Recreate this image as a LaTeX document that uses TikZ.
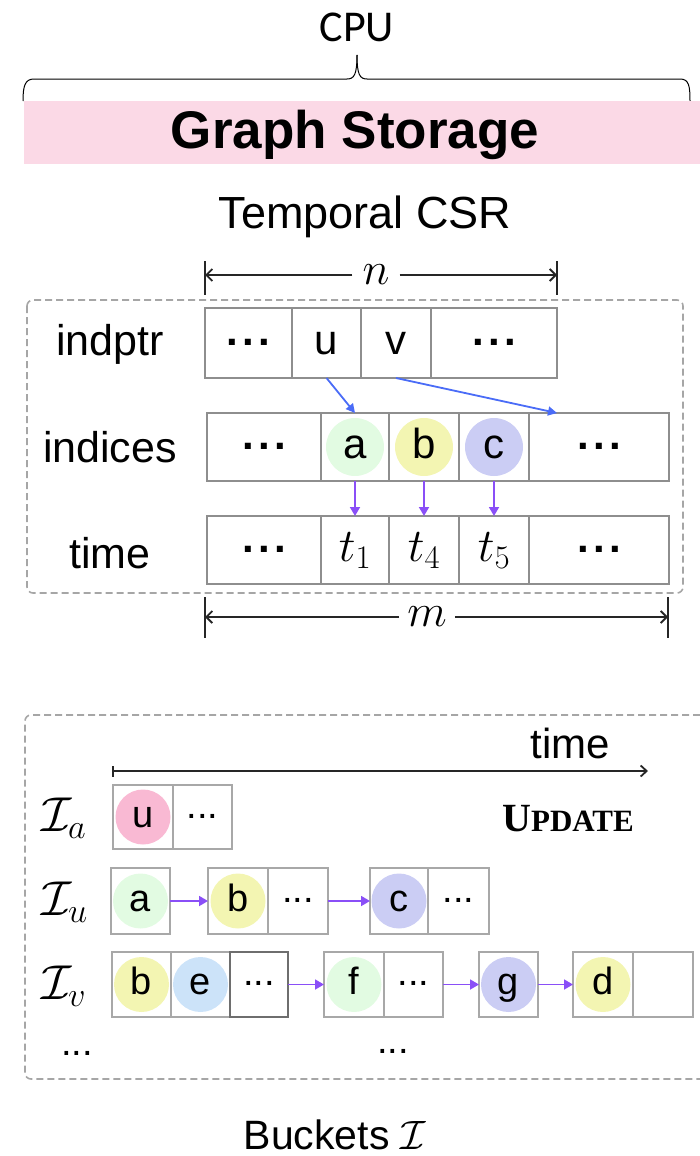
\RequirePackage{fix-cm}
\documentclass[tikz,border=0pt]{standalone}
\usepackage{fontspec}
\setmainfont{Liberation Sans}
\newfontfamily\cpufont{Carlito}
\newfontfamily\tnrfont{Liberation Serif}
\usetikzlibrary{arrows.meta}

\definecolor{bandpink}{HTML}{FBD9E6}
\definecolor{cellgray}{HTML}{8E8E8E}
\definecolor{darkcell}{HTML}{6E6E6E}
\definecolor{bucketgray}{HTML}{A8A8A8}
\definecolor{dashgray}{HTML}{A6A6A6}
\definecolor{ptrblue}{HTML}{4A6CF7}
\definecolor{linkpurple}{HTML}{8A4FF7}
\definecolor{cgreen}{HTML}{E2FBE2}
\definecolor{cyellow}{HTML}{F3F5B2}
\definecolor{clav}{HTML}{CBCDF4}
\definecolor{cpink}{HTML}{F9B9D3}
\definecolor{cblue}{HTML}{CCE3F9}

\newcommand{\fs}[1]{\fontsize{#1}{#1}\selectfont}
\newcommand{\bdots}{\raisebox{9pt}{\textbf{.\kern0.1em.\kern0.1em.}}}
\newcommand{\rdots}{\raisebox{9pt}{...}}
% cell: style, name, x1, x2, y1, y2
\newcommand{\cellbox}[6]{%
  \node[#1, minimum width={(#4-#3)*1pt}, minimum height={(#6-#5)*1pt}]
    (#2) at ({(#3+#4)/2},{(#5+#6)/2}) {};}

\tikzset{
  csrcell/.style={draw=cellgray, line width=1.8pt, inner sep=0pt, outer sep=0pt},
  bktcell/.style={draw=bucketgray, line width=1.8pt, inner sep=0pt, outer sep=0pt},
  bigtext/.style={font=\fs{42}, text height=30pt, text depth=8pt, inner sep=0pt},
  mathtext/.style={font=\fs{47}, text height=30pt, text depth=8pt, inner sep=0pt},
  smalltext/.style={font=\fs{38}, text height=27pt, text depth=7pt, inner sep=0pt},
  ball/.style={circle, fill=#1, minimum size=58pt, bigtext},
  sball/.style={circle, fill=#1, minimum size=55pt, smalltext},
  rowlabel/.style={font=\fs{43}, anchor=base},
  bktlabel/.style={font=\fs{49}, anchor=base west},
  dashbox/.style={draw=dashgray, line width=1.6pt, dash pattern=on 7pt off 4pt, rounded corners=6pt},
  dimline/.style={draw=black!85, line width=1.8pt},
  dimarr/.style={dimline, -{Straight Barb[length=6pt,width=12pt]}},
  ptr/.style={draw=ptrblue, line width=1.8pt, -{Triangle[length=9pt,width=9pt]}},
  link/.style={draw=linkpurple, line width=1.8pt, -{Triangle[length=9pt,width=10pt]}},
}

\begin{document}
\begin{tikzpicture}[x=1pt,y=-1pt]
\useasboundingbox (0,0) rectangle (700,1156);

% ---------- header ----------
\node[font=\cpufont\fs{44}, anchor=base] (cpu) at (357,42) {CPU};
\coordinate (brL) at (23,101);
\coordinate (brM) at (357,55);
\coordinate (brR) at (690,101);
\draw[line width=1pt] (brL) .. controls (23,86) and (25,79) .. (34,79) -- (347,79)
  .. controls (354,79) and (357,75) .. (brM);
\draw[line width=1pt] (brM) .. controls (357,75) and (360,79) .. (367,79) -- (680,79)
  .. controls (689,79) and (690,86) .. (brR);
\node[fill=bandpink, minimum width=676pt, minimum height=63pt, inner sep=0pt, anchor=north west] (band) at (24,101) {};
\node[font=\bfseries\fs{53}, anchor=base] (gs) at (355,148) {Graph Storage};
\node[font=\fs{45}, anchor=base] (tcsr) at (365,228) {Temporal CSR};

% ---------- n dimension ----------
\coordinate (nLt) at (205,261); \coordinate (nLb) at (205,295);
\coordinate (nRt) at (557,261); \coordinate (nRb) at (557,295);
\coordinate (nL) at (205,275); \coordinate (nR) at (557,275);
\draw[dimline] (nLt) -- (nLb);
\draw[dimline] (nRt) -- (nRb);
\node[font=\fs{46}, inner sep=10pt] (nlab) at (376,275) {$n$};
\draw[dimarr] (nlab) -- (nL);
\draw[dimarr] (nlab) -- (nR);

% ---------- temporal CSR ----------
\draw[dashbox] (27,300) rectangle (683,593);

\node[rowlabel] (lptr) at (110,355) {indptr};
\node[rowlabel] (lidx) at (110,462) {indices};
\node[rowlabel] (ltime) at (110,568) {time};

\cellbox{csrcell}{ip1}{205}{292}{308}{378}
\cellbox{csrcell}{ip2}{292}{361}{308}{378}
\cellbox{csrcell}{ip3}{361}{431}{308}{378}
\cellbox{csrcell}{ip4}{431}{557}{308}{378}
\node[bigtext] at (ip1) {\bdots};
\node[bigtext] at (ip2) {u};
\node[bigtext] at (ip3) {v};
\node[bigtext] at (ip4) {\bdots};

\cellbox{csrcell}{ix1}{207}{321}{413}{481}
\cellbox{csrcell}{ix2}{321}{389}{413}{481}
\cellbox{csrcell}{ix3}{389}{459}{413}{481}
\cellbox{csrcell}{ix4}{459}{529}{413}{481}
\cellbox{csrcell}{ix5}{529}{669}{413}{481}
\node[bigtext] at (ix1) {\bdots};
\node[ball=cgreen] (ca) at (ix2) {a};
\node[ball=cyellow] (cb) at (ix3) {b};
\node[ball=clav] (cc) at (ix4) {c};
\node[bigtext] at (ix5) {\bdots};

\cellbox{csrcell}{tm1}{207}{321}{516}{584}
\cellbox{csrcell}{tm2}{321}{389}{516}{584}
\cellbox{csrcell}{tm3}{389}{459}{516}{584}
\cellbox{csrcell}{tm4}{459}{529}{516}{584}
\cellbox{csrcell}{tm5}{529}{669}{516}{584}
\node[bigtext] at (tm1) {\bdots};
\node[mathtext] at (tm2) {$t_1$};
\node[mathtext] at (tm3) {$t_4$};
\node[mathtext] at (tm4) {$t_5$};
\node[bigtext] at (tm5) {\bdots};

\coordinate (vtarget) at (557,413);
\draw[ptr] (ip2.south) -- (ix2.north);
\draw[ptr] (ip3.south) -- (vtarget);
\draw[link] (ix2.south) -- (tm2.north);
\draw[link] (ix3.south) -- (tm3.north);
\draw[link] (ix4.south) -- (tm4.north);

% ---------- m dimension ----------
\coordinate (mLt) at (205,597); \coordinate (mLb) at (205,638);
\coordinate (mRt) at (668,597); \coordinate (mRb) at (668,638);
\coordinate (mL) at (205,617); \coordinate (mR) at (668,617);
\draw[dimline] (mLt) -- (mLb);
\draw[dimline] (mRt) -- (mRb);
\node[font=\fs{46}, inner sep=8pt] (mlab) at (427,617) {$m$};
\draw[dimarr] (mlab) -- (mL);
\draw[dimarr] (mlab) -- (mR);

% ---------- buckets ----------
\draw[dashbox] (700,715) -- (25,715) -- (25,1079) -- (700,1079);

\coordinate (tS) at (112,771);
\coordinate (tE) at (648,771);
\draw[dimline, {Bar[width=11pt]}-{Straight Barb[length=6pt,width=11pt]}] (tS) -- (tE);
\node[font=\fs{42}, anchor=base] (tlab) at (570,758) {time};

\node[bktlabel] (la) at (38,831) {$\mathcal{I}_a$};
\node[bktlabel] (lu) at (38,915) {$\mathcal{I}_u$};
\node[bktlabel] (lv) at (38,999) {$\mathcal{I}_v$};

\node[anchor=base] (upd) at (568,831) {\tnrfont\bfseries\fs{40}U\fs{31}PDATE};

% bucket of a
\cellbox{bktcell}{a1}{113}{173}{785}{849}
\cellbox{bktcell}{a2}{173}{232}{785}{849}
\node[sball=cpink] at (a1) {u};
\node[smalltext] at (a2) {\rdots};

% bucket of u
\cellbox{bktcell}{u1}{111}{170}{868}{934}
\cellbox{bktcell}{u2}{208}{268}{868}{934}
\cellbox{bktcell}{u3}{268}{328}{868}{934}
\cellbox{bktcell}{u4}{370}{428}{868}{934}
\cellbox{bktcell}{u5}{428}{489}{868}{934}
\node[sball=cgreen] at (u1) {a};
\node[sball=cyellow] at (u2) {b};
\node[smalltext] at (u3) {\rdots};
\node[sball=clav] at (u4) {c};
\node[smalltext] at (u5) {\rdots};
\draw[link] (u1.east) -- (u2.west);
\draw[link] (u3.east) -- (u4.west);

% bucket of v
\cellbox{bktcell}{v1}{112}{171}{952}{1017}
\cellbox{bktcell}{v2}{171}{230}{952}{1017}
\cellbox{bktcell,draw=darkcell}{v3}{230}{288}{952}{1017}
\cellbox{bktcell}{v4}{324}{384}{952}{1017}
\cellbox{bktcell}{v5}{384}{443}{952}{1017}
\cellbox{bktcell}{v6}{479}{538}{952}{1017}
\cellbox{bktcell}{v7}{573}{633}{952}{1017}
\cellbox{bktcell}{v8}{633}{693}{952}{1017}
\node[sball=cyellow] at (v1) {b};
\node[sball=cblue] at (v2) {e};
\node[smalltext] at (v3) {\rdots};
\node[sball=cgreen] at (v4) {f};
\node[smalltext] at (v5) {\rdots};
\node[sball=clav] at (v6) {g};
\node[sball=cyellow] at (v7) {d};
\draw[link] (v3.east) -- (v4.west);
\draw[link] (v5.east) -- (v6.west);
\draw[link] (v6.east) -- (v7.west);

\node[font=\fs{38}, anchor=base] (more1) at (77,1055) {...};
\node[font=\fs{38}, anchor=base] (more2) at (393,1053) {...};

\node[font=\fs{41}, anchor=base] (bkt) at (335,1149) {Buckets $\mathcal{I}$};
\end{tikzpicture}
\end{document}
